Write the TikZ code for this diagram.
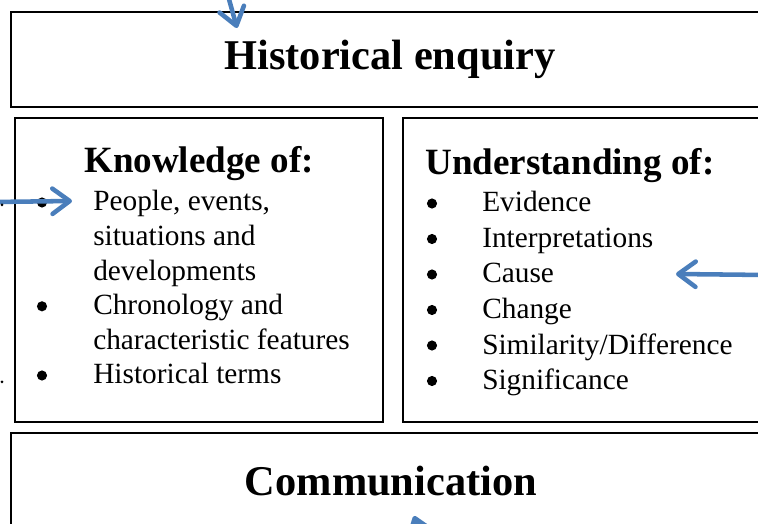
\documentclass[tikz,border=0pt]{standalone}
\usepackage{fontspec}
\setmainfont{Liberation Serif}
\usepackage{tikz}
\usetikzlibrary{arrows.meta, positioning}
\definecolor{HE_BLUE}{HTML}{4A7EBB}
\tikzset{
  bigbox/.style={
    rectangle, draw=black, line width=1.2pt,
    minimum width=568.5pt, minimum height=71.25pt, inner sep=0pt},
  listbox/.style={
    rectangle, draw=black, line width=1.2pt,
    minimum height=228pt, inner sep=0pt},
  title/.style={font=\fontsize{31.8}{38}\selectfont\bfseries, inner sep=0pt},
  head/.style={font=\fontsize{27.8}{33}\selectfont\bfseries, inner sep=0pt},
  item/.style={font=\fontsize{22}{26}\selectfont, inner sep=0pt, anchor=base west},
  bul/.style={circle, fill=black, inner sep=0pt, minimum size=7.6pt},
  arr/.style={-{Straight Barb[length=13pt,width=19pt,round]}, line width=3.4pt, color=HE_BLUE},
}

\begin{document}
\begin{tikzpicture}[x=0.75pt, y=-0.75pt]
  \clip (0,0) rectangle (758,524);

  % top and bottom boxes
  \node[bigbox] (enquiry) at (390,59.5) {};
  \node[title, anchor=base] (enqtxt) at (390,70) {Historical enquiry};

  \node[bigbox] (comm) at (390,480.5) {};
  \node[title, anchor=base] (commtxt) at (391,495) {Communication};

  % knowledge
  \node[listbox, minimum width=276pt] (know) at (199,270) {};
  \node[head, anchor=base] (knowhead) at (199,173) {Knowledge of:};
  \foreach \txt [count=\i] in {{People, events,}, {situations and}, {developments},
      {Chronology and}, {characteristic features}, {Historical terms}}
    \node[item] (k\i) at (93,{211+34.6*(\i-1)}) {\txt};
  \foreach \i in {1,4,6}
    \node[bul] (kb\i) at (42,{202.5+34.6*(\i-1)}) {};

  % understanding
  \node[listbox, minimum width=290pt] (under) at (596.5,270) {};
  \node[head, anchor=base west] (underhead) at (425,175) {Understanding of:};
  \foreach \txt [count=\i] in {Evidence, Interpretations, Cause, Change,
      Similarity/Difference, Significance} {
    \node[item] (u\i) at (482,{212+35.5*(\i-1)}) {\txt};
    \node[bul] (ub\i) at (432,{203.5+35.5*(\i-1)}) {};
  }

  % arrows coming in from outside
  \coordinate (topfrom) at (227,-8);
  \coordinate (topto) at (237,28);
  \draw[arr] (topfrom) -- (topto);

  \coordinate (leftfrom) at (-8,202);
  \coordinate (leftto) at (72,201);
  \draw[arr] (leftfrom) -- (leftto);

  \coordinate (rightfrom) at (766,275);
  \coordinate (rightto) at (676,274);
  \draw[arr] (rightfrom) -- (rightto);

  \coordinate (botfrom) at (424,545);
  \coordinate (botto) at (414,516);
  \draw[arr] (botfrom) -- (botto);

  % stray marks at the left edge
  \fill (2,205) circle[radius=1.5];
  \fill (2,382) circle[radius=1.5];
\end{tikzpicture}
\end{document}
